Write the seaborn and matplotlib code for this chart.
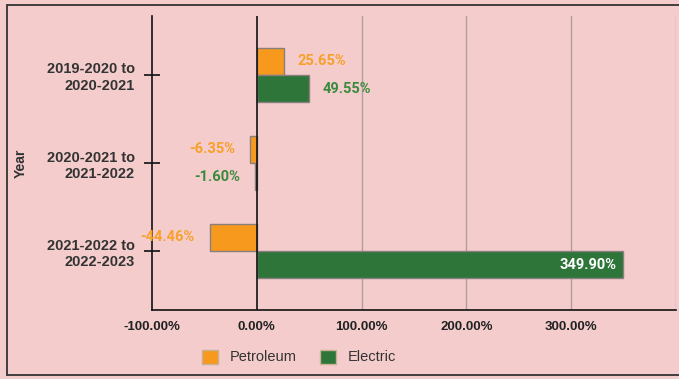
# Fuel type growth chart: petroleum vs electric, year over year change
import pandas as pd
import seaborn as sb
import matplotlib.pyplot as plt
from matplotlib.lines import Line2D
from matplotlib.patches import Patch

# Data
years = ["2019-2020 to\n2020-2021", "2020-2021 to\n2021-2022", "2021-2022 to\n2022-2023"]
petroleum = [25.65, -6.35, -44.46]
electric = [49.55, -1.60, 349.90]
series = ["Petroleum", "Electric"]
x_ticks = [-100, 0, 100, 200, 300]

bg = "#f4cccc"
colors = {"Petroleum": "#f7991c", "Electric": "#2e7539"}
text_colors = {"Petroleum": "#f7a02a", "Electric": "#3a8a3e"}

# Long form table for seaborn
df = pd.DataFrame({
    "Year": years * 2,
    "Change": petroleum + electric,
    "Fuel": ["Petroleum"] * 3 + ["Electric"] * 3,
})

sb.set_theme(style="white")
plt.rcParams["font.family"] = ["Liberation Sans", "DejaVu Sans"]

fig = plt.figure(figsize=(6.79, 3.79), dpi=100, facecolor=bg)
ax = fig.add_axes([152 / 679, 1 - 310 / 379, 524 / 679, 294 / 379])
ax.set_facecolor(bg)

sb.barplot(data=df, y="Year", x="Change", hue="Fuel", order=years, hue_order=series,
           palette=colors, saturation=1, orient="h", width=0.62, edgecolor="#8a7f7f",
           linewidth=1.0, legend=False, ax=ax)

ax.set_xlim(-100, 400)
ax.set_ylim(2.67, -0.67)

# Grid lines
for v in [100, 200, 300, 400]:
    ax.axvline(v, color="#b59c9e", linewidth=1.0, zorder=0)
ax.axvline(0, color="#111111", linewidth=1.2, zorder=3)

# Value labels
lab_kw = dict(textcoords="offset points", va="center", fontsize=10.5,
              fontweight="bold", family="Roboto")
for name, cont in zip(series, ax.containers):
    for bar in cont:
        w = bar.get_width()
        yc = bar.get_y() + bar.get_height() / 2
        if w > 300:
            ax.annotate(f"{w:.2f}%", (w, yc), xytext=(-5, 0), ha="right", color="white", **lab_kw)
        elif w >= 0:
            ax.annotate(f"{w:.2f}%", (w, yc), xytext=(10, 0), ha="left",
                        color=text_colors[name], **lab_kw)
        else:
            ax.annotate(f"{w:.2f}%", (w, yc), xytext=(-11, 0), ha="right",
                        color=text_colors[name], **lab_kw)

# Axes styling
ax.set_xticks(x_ticks)
ax.set_xticklabels([f"{t:.2f}%" for t in x_ticks])
ax.set_xlabel("")
ax.set_ylabel("Year", fontsize=10, fontweight="bold", color="#333333")
ax.yaxis.set_label_coords(-0.237, 0.5)
ax.tick_params(axis="x", length=0, pad=8, labelsize=9.5, labelcolor="#222222")
ax.tick_params(axis="y", left=True, direction="inout", length=11, width=1.2, color="#111111",
               pad=7, labelsize=10.5, labelcolor="#333333")
for lbl in ax.get_xticklabels() + ax.get_yticklabels():
    lbl.set_fontweight("bold")

for side in ["top", "right"]:
    ax.spines[side].set_visible(False)
for side in ["left", "bottom"]:
    ax.spines[side].set_color("#111111")
    ax.spines[side].set_linewidth(1.2)

# Legend below the chart
handles = [Patch(facecolor=colors[s], edgecolor="#c9b090", label=s) for s in series]
fig.legend(handles=handles, loc="center", bbox_to_anchor=(0.44, 0.058), ncol=2,
           frameon=False, fontsize=10.5, handlelength=1.1, handleheight=1.1,
           columnspacing=1.6, handletextpad=0.8, labelcolor="#333333")

# Outer frame
frame_kw = dict(transform=fig.transFigure, color="#333333", linewidth=1.3)
fig.add_artist(Line2D([7 / 679, 1], [1 - 5 / 379, 1 - 5 / 379], **frame_kw))
fig.add_artist(Line2D([7 / 679, 1], [1 - 375 / 379, 1 - 375 / 379], **frame_kw))
fig.add_artist(Line2D([7 / 679, 7 / 679], [1 - 375 / 379, 1 - 5 / 379], **frame_kw))

fig.savefig("out.png", dpi=100, facecolor=bg)
